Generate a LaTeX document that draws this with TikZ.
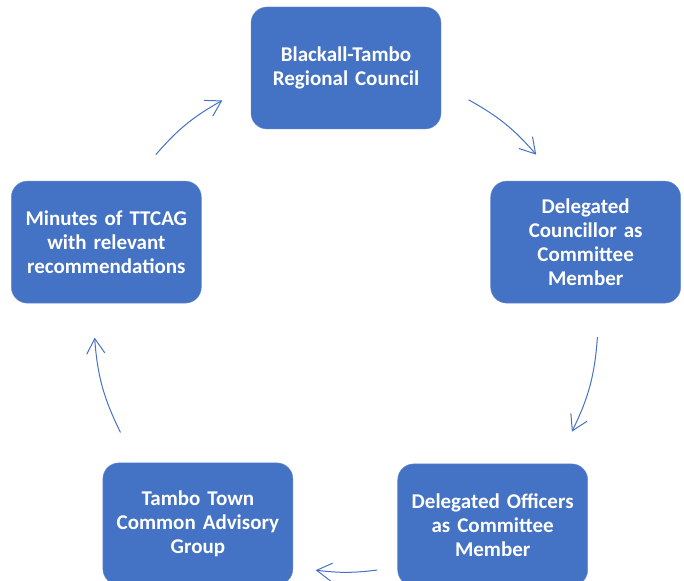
\documentclass[tikz,border=0pt]{standalone}
\usepackage{fontspec}
\setmainfont{Carlito}[WordSpace=0.8]
\usepackage{xcolor}
\usetikzlibrary{positioning, calc, arrows.meta}

\definecolor{boxblue}{HTML}{4472C4}

\tikzset{
  box/.style={rectangle, rounded corners=16pt, fill=boxblue, draw=boxblue!80!white,
    minimum width=190pt, minimum height=122pt, text width=184pt, inner xsep=3pt,
    align=center, text=white, font=\fontsize{21}{24}\selectfont\bfseries},
  arr/.style={boxblue, line width=1pt, -{Straight Barb[length=15pt,width=18pt]}}
}

\begin{document}
\begin{tikzpicture}[x=1pt, y=1pt]
            \useasboundingbox (0,0) rectangle (684,580);
            \coordinate (c) at (346,260);

            % the five boxes round the cycle
            \node[box] (council) at ($(c)+(90:252)$) {Blackall-Tambo\\Regional Council};
            \node[box] (councillor) at ($(c)+(18:252)$) {Delegated\\Councillor as\\Committee\\Member};
            \node[box] (officers) at ($(c)+(-54.4:252)$) {Delegated Officers\\as Committee\\Member};
            \node[box] (group) at ($(c)+(-126:252)$) {Tambo Town\\Common Advisory\\Group};
            \node[box] (minutes) at ($(c)+(162:252)$) {Minutes of TTCAG\\with relevant\\recommendations};

            % arrow ends on the same circle
            \foreach \n/\a in {a1/60.9, b1/41, a2/-3.9, b2/-26.3, a3/-82.9, b3/-96.9,
                               a4/-153.5, b4/-176, a5/139, b5/119.4}
              \coordinate (\n) at ($(c)+(\a:252)$);

            \draw[arr] (a1) to[bend left=10] (b1);
            \draw[arr] (a2) to[bend left=11] (b2);
            \draw[arr] (a3) to[bend left=7] (b3);
            \draw[arr] (a4) to[bend left=11] (b4);
            \draw[arr] (a5) to[bend left=10] (b5);
          \end{tikzpicture}
\end{document}
